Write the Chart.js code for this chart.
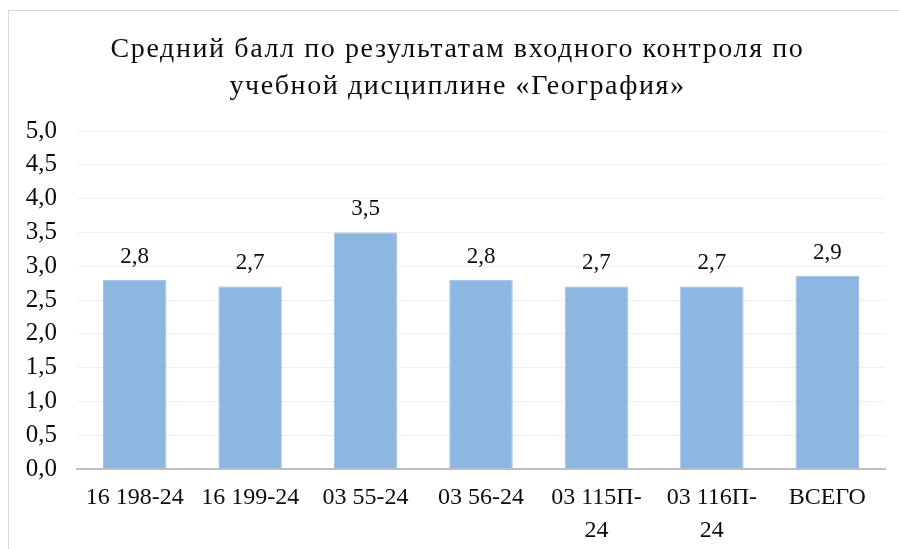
<!DOCTYPE html>
<html>
<head>
<meta charset="utf-8">
<script src="https://cdn.jsdelivr.net/npm/chart.js@4"></script>
<style>
  html, body { margin: 0; padding: 0; background: #fff; width: 899px; height: 549px; overflow: hidden; }
  #frame { position: absolute; left: 8px; top: 10px; width: 900px; height: 560px; border: 1px solid #d9d9d9; box-sizing: border-box; }
  #wrap { position: absolute; left: 0; top: 0; width: 899px; height: 549px; }
</style>
</head>
<body>
<div id="frame"></div>
<div id="wrap"><canvas id="c" width="899" height="549"></canvas></div>
<script>
const titleLines = ['Средний балл по результатам входного контроля по', 'учебной дисциплине «География»'];
const categories = [['16 198-24'], ['16 199-24'], ['03 55-24'], ['03 56-24'], ['03 115П-', '24'], ['03 116П-', '24'], ['ВСЕГО']];
const values = [2.8, 2.7, 3.5, 2.8, 2.7, 2.7, 2.86];
const yTicks = [0, 0.5, 1, 1.5, 2, 2.5, 3, 3.5, 4, 4.5, 5];

const fmt = v => v.toFixed(1).replace('.', ',');
const FONT = "'Liberation Serif', 'Times New Roman', serif";
const TEXT = '#0d0d0d';

const titlePlugin = {
  id: 'customTitle',
  afterDraw(chart) {
    const ctx = chart.ctx;
    ctx.save();
    ctx.font = "28px " + FONT;
    ctx.fillStyle = TEXT;
    try { ctx.letterSpacing = '1.6px'; } catch (e) {}
    ctx.textAlign = 'left';
    ctx.textBaseline = 'alphabetic';
    const cx = chart.width / 2 + 8;
    const baselines = [57, 94];
    titleLines.forEach((t, i) => {
      const w = ctx.measureText(t).width;
      ctx.fillText(t, cx - w / 2, baselines[i]);
    });
    ctx.restore();
  }
};

const labelPlugin = {
  id: 'barLabels',
  afterDatasetsDraw(chart) {
    const ctx = chart.ctx;
    const meta = chart.getDatasetMeta(0);
    ctx.save();
    ctx.font = "23px " + FONT;
    ctx.fillStyle = TEXT;
    ctx.textAlign = 'center';
    ctx.textBaseline = 'alphabetic';
    meta.data.forEach((bar, i) => {
      ctx.fillText(fmt(values[i]), bar.x, bar.y - 17);
    });
    ctx.restore();
  }
};

new Chart(document.getElementById('c'), {
  type: 'bar',
  data: {
    labels: categories,
    datasets: [{
      data: values,
      backgroundColor: '#8db6e1',
      borderColor: '#9cc0e6',
      borderWidth: 1,
      categoryPercentage: 1,
      barPercentage: 0.55
    }]
  },
  options: {
    responsive: false,
    animation: false,
    devicePixelRatio: 1,
    layout: { padding: { left: 0, right: 14, top: 131, bottom: 0 } },
    plugins: {
      legend: { display: false },
      tooltip: { enabled: false },
      title: { display: false }
    },
    scales: {
      x: {
        grid: { display: false, drawTicks: false },
        border: { display: true, color: '#bfbfbf', width: 2 },
        afterFit(axis) { axis.height = 80; },
        ticks: {
          color: TEXT,
          font: { family: FONT, size: 24, lineHeight: 1.35 },
          maxRotation: 0,
          autoSkip: false,
          padding: 13
        }
      },
      y: {
        min: 0,
        max: 5,
        afterBuildTicks(axis) { axis.ticks = yTicks.map(v => ({ value: v })); },
        afterFit(axis) { axis.width = 77; },
        grid: { color: '#eeeeee', lineWidth: 1, drawTicks: false },
        border: { display: false },
        ticks: {
          color: TEXT,
          font: { family: FONT, size: 25 },
          padding: 20,
          callback: v => fmt(v)
        }
      }
    }
  },
  plugins: [labelPlugin, titlePlugin]
});
</script>
</body>
</html>
